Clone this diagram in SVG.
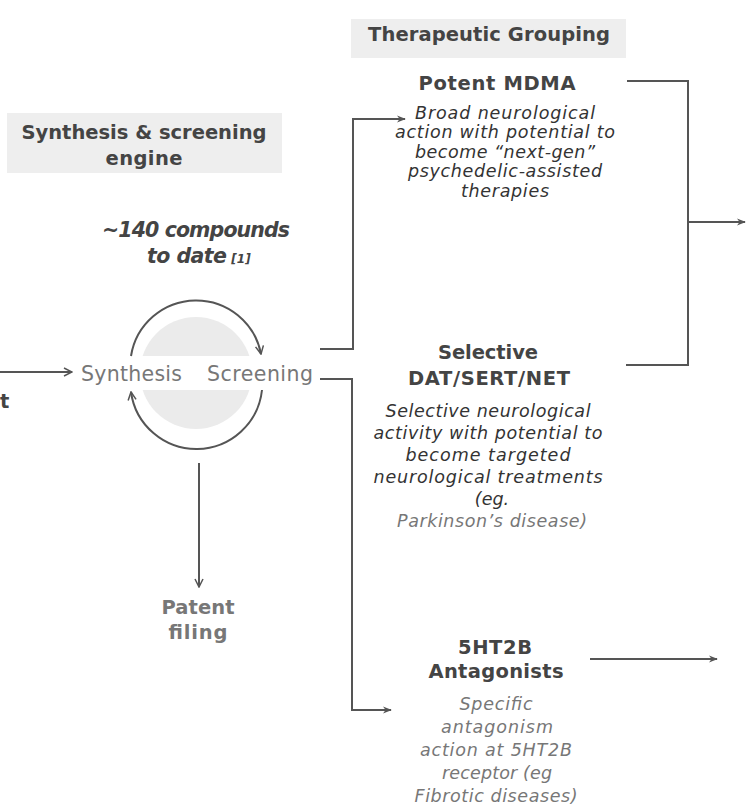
<svg xmlns="http://www.w3.org/2000/svg" width="750" height="805" viewBox="0 0 750 805">
<defs>
<style>
.h{font-family:"DejaVu Sans","Noto Sans",sans-serif;font-weight:bold;fill:#444;text-anchor:middle;font-size:19.5px}
.d{font-family:"DejaVu Sans","Noto Sans",sans-serif;font-style:italic;fill:#333;text-anchor:middle;font-size:17.5px}
.r{font-family:"DejaVu Sans","Noto Sans",sans-serif;fill:#777;font-size:20.5px}
.c{font-size:20.5px;font-style:italic}
.g{fill:#777}
.ln{fill:none;stroke:#555;stroke-width:2}
.box{fill:#eeeeee}
</style>
<marker id="ah" viewBox="0 0 10 10" refX="9" refY="5" markerWidth="9" markerHeight="9" orient="auto" markerUnits="userSpaceOnUse">
<path d="M0,1 L10,5 L0,9 L3,5 Z" fill="#555"/>
</marker>
<marker id="oh" viewBox="0 0 10 10" refX="9" refY="5" markerWidth="10" markerHeight="10" orient="auto" markerUnits="userSpaceOnUse">
<path d="M1,1 L9,5 L1,9" fill="none" stroke="#555" stroke-width="1.5"/>
</marker>
</defs>
<rect width="750" height="805" fill="#fff"/>

<g id="engine-title">
<rect class="box" x="7" y="113" width="275" height="60"/>
<text class="h" x="144" y="139" textLength="245">Synthesis &amp; screening</text>
<text class="h" x="144" y="165" textLength="77">engine</text>
</g>

<g id="compounds">
<text class="h c" x="196" y="237" textLength="188">~140 compounds</text>
<text class="h c" x="187" y="263" textLength="80">to date</text>
<text class="h" x="241" y="263" style="font-size:12px;font-style:italic">[1]</text>
</g>

<g id="cycle">
<circle cx="196" cy="373" r="56" fill="#ebebeb"/>
<rect x="138" y="356" width="116" height="34" fill="#fff"/>
<path class="ln" d="M131,356 A66,66 0 0 1 261,354" marker-end="url(#oh)"/>
<path class="ln" d="M262,390 A66,66 0 0 1 131,392" marker-end="url(#oh)"/>
<text class="r" x="81" y="381" textLength="101">Synthesis</text>
<text class="r" x="207" y="381" textLength="106">Screening</text>
</g>

<g id="input">
<text class="h" x="0" y="408" style="text-anchor:start">t</text>
</g>

<g id="patent">
<text class="h g" x="198" y="614" textLength="73">Patent</text>
<text class="h g" x="198" y="639" textLength="59">filing</text>
</g>

<g id="grouping-title">
<rect class="box" x="351" y="19" width="275" height="39"/>
<text class="h" x="489" y="41" textLength="242">Therapeutic Grouping</text>
</g>

<g id="mdma">
<text class="h" x="497" y="90" textLength="157">Potent MDMA</text>
<text class="d" x="505" y="119" textLength="180">Broad neurological</text>
<text class="d" x="505" y="138" textLength="220">action with potential to</text>
<text class="d" x="505" y="158" textLength="180">become “next-gen”</text>
<text class="d" x="505" y="177" textLength="194">psychedelic-assisted</text>
<text class="d" x="505" y="197" textLength="88">therapies</text>
</g>

<g id="selective">
<text class="h" x="488" y="359" textLength="100">Selective</text>
<text class="h" x="489" y="385" textLength="162">DAT/SERT/NET</text>
<text class="d" x="488" y="417" textLength="205">Selective neurological</text>
<text class="d" x="488" y="439" textLength="229">activity with potential to</text>
<text class="d" x="488" y="461" textLength="165">become targeted</text>
<text class="d" x="488" y="483" textLength="229">neurological treatments</text>
<text class="d" x="492" y="505">(eg.</text>
<text class="d g" x="492" y="527" textLength="190">Parkinson’s disease)</text>
</g>

<g id="antagonists">
<text class="h" x="495" y="654" textLength="74">5HT2B</text>
<text class="h" x="496" y="678" textLength="135">Antagonists</text>
<text class="d g" x="496" y="710" textLength="73">Specific</text>
<text class="d g" x="497" y="733" textLength="112">antagonism</text>
<text class="d g" x="496" y="756" textLength="152">action at 5HT2B</text>
<text class="d g" x="497" y="779" textLength="110">receptor (eg</text>
<text class="d g" x="496" y="802" textLength="163">Fibrotic diseases)</text>
</g>

<g id="connectors">
<path class="ln" d="M0,372 H72" marker-end="url(#oh)"/>
<path class="ln" d="M320,349 H353 V119 H405" marker-end="url(#ah)"/>
<path class="ln" d="M320,379 H352 V710 H391" marker-end="url(#ah)"/>
<path class="ln" d="M627,81 H688 V365 H626"/>
<path class="ln" d="M688,222 H745" marker-end="url(#ah)"/>
<path class="ln" d="M590,659 H717" marker-end="url(#ah)"/>
<path class="ln" d="M199,463 V587" marker-end="url(#oh)"/>
</g>
</svg>
